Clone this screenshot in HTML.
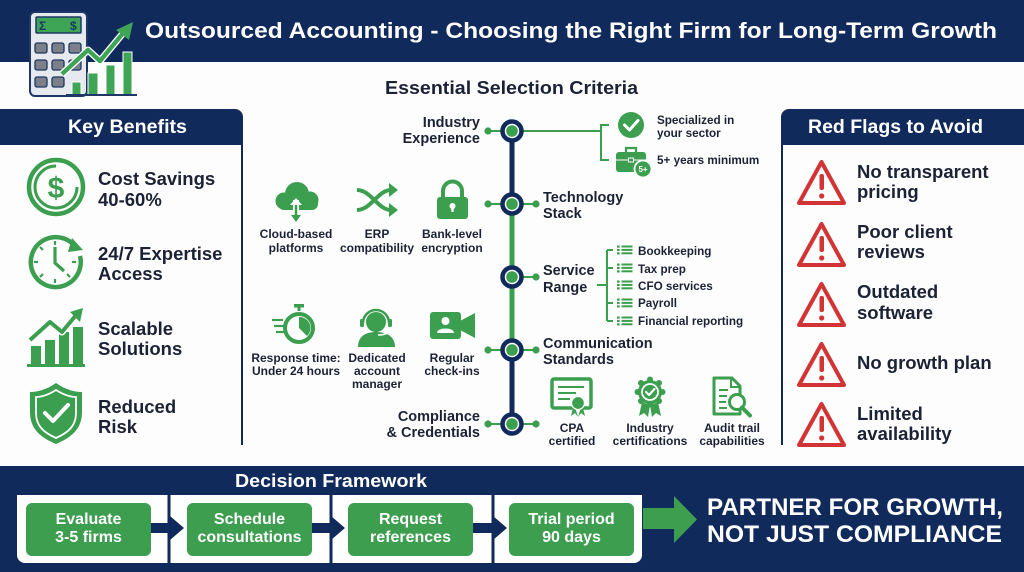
<!DOCTYPE html>
<html><head><meta charset="utf-8"><style>
html,body{margin:0;padding:0;background:#fdfdfd;}
svg{display:block;}
text{font-family:"Liberation Sans",Arial,sans-serif;font-weight:bold;}
</style></head><body>
<svg width="1024" height="572" viewBox="0 0 1024 572" xmlns="http://www.w3.org/2000/svg">
<rect x="0" y="0" width="1024" height="572" fill="#fdfdfd"/>
<!-- header -->
<rect x="0" y="0" width="1024" height="62" fill="#112a5c"/>
<text x="145" y="38" font-size="22" fill="#ffffff" textLength="852" lengthAdjust="spacingAndGlyphs">Outsourced Accounting - Choosing the Right Firm for Long-Term Growth</text>

<!-- calculator logo -->
<rect x="30" y="12" width="57" height="84" rx="5" fill="#e6eaee" stroke="#1e3766" stroke-width="2"/>
<rect x="36" y="17" width="45" height="16" rx="1" fill="#3fa556" stroke="#1e3766" stroke-width="1.5"/>
<text x="39" y="30" font-size="12" fill="#1e3766">Σ</text>
<text x="70" y="30" font-size="12" fill="#1e3766">$</text>
<g fill="#7c8088" stroke="#1e3766" stroke-width="1.3">
<rect x="35" y="43" width="12" height="10" rx="2"/><rect x="52" y="43" width="12" height="10" rx="2"/><rect x="69" y="43" width="12" height="10" rx="2"/>
<rect x="35" y="60" width="12" height="10" rx="2"/><rect x="52" y="60" width="12" height="10" rx="2"/><rect x="69" y="60" width="12" height="10" rx="2"/>
<rect x="35" y="77" width="12" height="10" rx="2"/><rect x="52" y="77" width="12" height="10" rx="2"/>
</g>
<g fill="#3fa556" stroke="#ffffff" stroke-width="1">
<rect x="72" y="82" width="9" height="13"/><rect x="88" y="73" width="10" height="22"/><rect x="106" y="65" width="9" height="30"/><rect x="123" y="52" width="9" height="43"/>
</g>
<line x1="66" y1="95" x2="137" y2="95" stroke="#1e3766" stroke-width="2"/>
<polyline points="62,74 88,50 100,61 124,32" fill="none" stroke="#ffffff" stroke-width="7" stroke-linejoin="round"/>
<polyline points="62,74 88,50 100,61 124,32" fill="none" stroke="#3fa556" stroke-width="4.5" stroke-linejoin="round"/>
<polygon points="133,22 129,40 116,30" fill="#3fa556"/>

<text x="385" y="94" font-size="18" fill="#1b2236" textLength="253" lengthAdjust="spacingAndGlyphs">Essential Selection Criteria</text>

<!-- left panel -->
<path d="M0,109 H235 A8,8 0 0 1 243,117 V145 H0 Z" fill="#112a5c"/>
<line x1="242" y1="145" x2="242" y2="445" stroke="#112a5c" stroke-width="2"/>
<text x="127.5" y="133" font-size="19" fill="#ffffff" text-anchor="middle" textLength="119" lengthAdjust="spacingAndGlyphs">Key Benefits</text>

<!-- dollar icon -->
<circle cx="56" cy="187" r="27" fill="none" stroke="#3c9e4f" stroke-width="4.5"/>
<path d="M56,166 A21,21 0 1 0 77,187" fill="none" stroke="#3c9e4f" stroke-width="3"/>
<text x="56" y="198" font-size="30" fill="#3c9e4f" text-anchor="middle">$</text>
<!-- clock icon -->
<path d="M73,244 A25,25 0 1 0 80,256" fill="none" stroke="#3c9e4f" stroke-width="4.5"/>
<polygon points="83,250 72,238 68,252" fill="#3c9e4f"/>
<g stroke="#3c9e4f" stroke-width="2.2">
<line x1="55" y1="241" x2="55" y2="245"/><line x1="55" y1="279" x2="55" y2="283"/><line x1="34" y1="262" x2="38" y2="262"/><line x1="72" y1="262" x2="76" y2="262"/>
<line x1="40" y1="247" x2="43" y2="250"/><line x1="67" y1="274" x2="70" y2="277"/><line x1="40" y1="277" x2="43" y2="274"/>
</g>
<polyline points="55,247 55,263 64,271" fill="none" stroke="#3c9e4f" stroke-width="3.2" stroke-linejoin="round"/>
<!-- chart icon -->
<g fill="#3c9e4f">
<rect x="31" y="346" width="10" height="18"/><rect x="45" y="340" width="10" height="24"/><rect x="59" y="332" width="10" height="32"/><rect x="73" y="327" width="10" height="37"/>
</g>
<line x1="27" y1="365.5" x2="85" y2="365.5" stroke="#3c9e4f" stroke-width="3"/>
<polyline points="30,340 50,322 62,332 77,314" fill="none" stroke="#ffffff" stroke-width="7" stroke-linejoin="round"/>
<polyline points="30,340 50,322 62,332 77,314" fill="none" stroke="#3c9e4f" stroke-width="4" stroke-linejoin="round"/>
<polygon points="83,308 80,322 70,312" fill="#3c9e4f"/>
<!-- shield -->
<path d="M56,383 C66,390 75,392 82,392 L82,412 C82,430 70,438 56,444 C42,438 30,430 30,412 L30,392 C37,392 46,390 56,383 Z" fill="#3c9e4f"/>
<path d="M56,390 C64,395 71,397 76,397 L76,413 C76,427 67,433 56,438 C45,433 36,427 36,413 L36,397 C41,397 48,395 56,390 Z" fill="none" stroke="#ffffff" stroke-width="1.8"/>
<polyline points="45,413 53,421 68,405" fill="none" stroke="#ffffff" stroke-width="4" stroke-linecap="round" stroke-linejoin="round"/>

<g font-size="18.5" fill="#1b2236">
<text x="98" y="185">Cost Savings</text><text x="98" y="206">40-60%</text>
<text x="98" y="260">24/7 Expertise</text><text x="98" y="280">Access</text>
<text x="98" y="335">Scalable</text><text x="98" y="355">Solutions</text>
<text x="98" y="413">Reduced</text><text x="98" y="433">Risk</text>
</g>

<!-- right panel -->
<path d="M789,109 H1024 V145 H781 V117 A8,8 0 0 1 789,109 Z" fill="#112a5c"/>
<line x1="782" y1="145" x2="782" y2="445" stroke="#112a5c" stroke-width="2"/>
<text x="895.5" y="133" font-size="19" fill="#ffffff" text-anchor="middle" textLength="175" lengthAdjust="spacingAndGlyphs">Red Flags to Avoid</text>
<g fill="none" stroke="#d23334" stroke-width="4" stroke-linejoin="round">
<polygon points="821.5,162 799,203 844,203"/>
<polygon points="821.5,224 799,265 844,265"/>
<polygon points="821.5,284 799,325 844,325"/>
<polygon points="821.5,344 799,385 844,385"/>
<polygon points="821.5,404 799,445 844,445"/>
</g>
<g fill="#d23334">
<rect x="819.5" y="174" width="4.5" height="16" rx="2"/><circle cx="821.7" cy="196" r="2.6"/>
<rect x="819.5" y="236" width="4.5" height="16" rx="2"/><circle cx="821.7" cy="258" r="2.6"/>
<rect x="819.5" y="296" width="4.5" height="16" rx="2"/><circle cx="821.7" cy="318" r="2.6"/>
<rect x="819.5" y="356" width="4.5" height="16" rx="2"/><circle cx="821.7" cy="378" r="2.6"/>
<rect x="819.5" y="416" width="4.5" height="16" rx="2"/><circle cx="821.7" cy="438" r="2.6"/>
</g>
<g font-size="18.5" fill="#1b2236">
<text x="857" y="178">No transparent</text><text x="857" y="198">pricing</text>
<text x="857" y="238">Poor client</text><text x="857" y="258">reviews</text>
<text x="857" y="298">Outdated</text><text x="857" y="319">software</text>
<text x="857" y="369">No growth plan</text>
<text x="857" y="420">Limited</text><text x="857" y="440">availability</text>
</g>

<!-- center timeline -->
<line x1="512" y1="131" x2="512" y2="204" stroke="#112a5c" stroke-width="5"/>
<line x1="512" y1="204" x2="512" y2="350" stroke="#3c9e4f" stroke-width="5"/>
<line x1="512" y1="350" x2="512" y2="424" stroke="#112a5c" stroke-width="5"/>
<g stroke="#3c9e4f" stroke-width="2">
<line x1="488" y1="131" x2="512" y2="131"/><line x1="512" y1="131" x2="601" y2="131"/>
<line x1="488" y1="204" x2="536" y2="204"/>
<line x1="512" y1="277" x2="536" y2="277"/>
<line x1="488" y1="350" x2="536" y2="350"/>
<line x1="488" y1="424" x2="536" y2="424"/>
<polyline points="609,125 601,125 601,160 609,160" fill="none"/>
<line x1="597" y1="285" x2="607" y2="285"/>
<line x1="607" y1="250" x2="607" y2="321"/>
<line x1="607" y1="250" x2="613" y2="250"/><line x1="607" y1="268" x2="613" y2="268"/><line x1="607" y1="303" x2="613" y2="303"/><line x1="607" y1="321" x2="613" y2="321"/>
</g>
<g fill="#3c9e4f">
<circle cx="488" cy="131" r="3.6"/>
<circle cx="488" cy="204" r="3.6"/><circle cx="536" cy="204" r="3.6"/>
<circle cx="536" cy="277" r="3.6"/>
<circle cx="488" cy="350" r="3.6"/><circle cx="536" cy="350" r="3.6"/>
<circle cx="488" cy="424" r="3.6"/><circle cx="536" cy="424" r="3.6"/>
</g>
<g fill="#ffffff" stroke="#112a5c" stroke-width="4.5">
<circle cx="512" cy="131" r="9.5"/><circle cx="512" cy="204" r="9.5"/><circle cx="512" cy="277" r="9.5"/><circle cx="512" cy="350" r="9.5"/><circle cx="512" cy="424" r="9.5"/>
</g>
<g fill="#3c9e4f">
<circle cx="512" cy="131" r="5.8"/><circle cx="512" cy="204" r="5.8"/><circle cx="512" cy="277" r="5.8"/><circle cx="512" cy="350" r="5.8"/><circle cx="512" cy="424" r="5.8"/>
</g>

<g font-size="14.5" fill="#1b2236">
<text x="480" y="127" text-anchor="end">Industry</text><text x="480" y="143" text-anchor="end">Experience</text>
<text x="543" y="202">Technology</text><text x="543" y="218">Stack</text>
<text x="543" y="275">Service</text><text x="543" y="292">Range</text>
<text x="543" y="348">Communication</text><text x="543" y="364">Standards</text>
<text x="480" y="421" text-anchor="end">Compliance</text><text x="480" y="437" text-anchor="end">&amp; Credentials</text>
</g>

<!-- industry details -->
<circle cx="631" cy="125" r="13" fill="#3c9e4f"/>
<polyline points="624.5,125 629.5,130 638,120.5" fill="none" stroke="#ffffff" stroke-width="3" stroke-linecap="round" stroke-linejoin="round"/>
<path d="M626,152 V148 H636 V152" fill="none" stroke="#3c9e4f" stroke-width="2.2"/>
<rect x="616" y="152" width="30" height="20" rx="3" fill="#3c9e4f"/>
<line x1="616" y1="160" x2="646" y2="160" stroke="#ffffff" stroke-width="1"/>
<rect x="628.5" y="158" width="5" height="4" fill="#3c9e4f" stroke="#ffffff" stroke-width="1"/>
<circle cx="643" cy="169" r="8.5" fill="#3c9e4f" stroke="#ffffff" stroke-width="1.8"/>
<text x="643" y="172" font-size="8" fill="#ffffff" text-anchor="middle">5+</text>
<g font-size="11.7" fill="#1b2236">
<text x="657" y="124">Specialized in</text><text x="657" y="137">your sector</text>
<text x="657" y="164">5+ years minimum</text>
</g>

<!-- service list -->
<g fill="#3c9e4f">
<g transform="translate(0,250)"><rect x="617" y="-4.5" width="2.6" height="2.2"/><rect x="617" y="-1.1" width="2.6" height="2.2"/><rect x="617" y="2.3" width="2.6" height="2.2"/><rect x="621.5" y="-4.5" width="11" height="2"/><rect x="621.5" y="-1.1" width="11" height="2"/><rect x="621.5" y="2.3" width="11" height="2"/></g>
<g transform="translate(0,268)"><rect x="617" y="-4.5" width="2.6" height="2.2"/><rect x="617" y="-1.1" width="2.6" height="2.2"/><rect x="617" y="2.3" width="2.6" height="2.2"/><rect x="621.5" y="-4.5" width="11" height="2"/><rect x="621.5" y="-1.1" width="11" height="2"/><rect x="621.5" y="2.3" width="11" height="2"/></g>
<g transform="translate(0,285)"><rect x="617" y="-4.5" width="2.6" height="2.2"/><rect x="617" y="-1.1" width="2.6" height="2.2"/><rect x="617" y="2.3" width="2.6" height="2.2"/><rect x="621.5" y="-4.5" width="11" height="2"/><rect x="621.5" y="-1.1" width="11" height="2"/><rect x="621.5" y="2.3" width="11" height="2"/></g>
<g transform="translate(0,303)"><rect x="617" y="-4.5" width="2.6" height="2.2"/><rect x="617" y="-1.1" width="2.6" height="2.2"/><rect x="617" y="2.3" width="2.6" height="2.2"/><rect x="621.5" y="-4.5" width="11" height="2"/><rect x="621.5" y="-1.1" width="11" height="2"/><rect x="621.5" y="2.3" width="11" height="2"/></g>
<g transform="translate(0,321)"><rect x="617" y="-4.5" width="2.6" height="2.2"/><rect x="617" y="-1.1" width="2.6" height="2.2"/><rect x="617" y="2.3" width="2.6" height="2.2"/><rect x="621.5" y="-4.5" width="11" height="2"/><rect x="621.5" y="-1.1" width="11" height="2"/><rect x="621.5" y="2.3" width="11" height="2"/></g>
</g>
<g font-size="11.7" fill="#1b2236">
<text x="638" y="255">Bookkeeping</text>
<text x="638" y="273">Tax prep</text>
<text x="638" y="290">CFO services</text>
<text x="638" y="307">Payroll</text>
<text x="638" y="325">Financial reporting</text>
</g>

<!-- technology icons -->
<g fill="#3c9e4f">
<circle cx="297" cy="194" r="12"/><circle cx="284" cy="201" r="8.5"/><circle cx="310" cy="200" r="8.5"/>
<rect x="278" y="198" width="40" height="12" rx="6"/>
</g>
<line x1="296" y1="200" x2="296" y2="216" stroke="#ffffff" stroke-width="6"/>
<line x1="296" y1="200" x2="296" y2="218" stroke="#3c9e4f" stroke-width="2.5"/>
<polygon points="290,205 296,198 302,205" fill="#ffffff"/>
<polygon points="291,215 296,222 301,215" fill="#3c9e4f"/>
<g fill="none" stroke="#3c9e4f" stroke-width="4">
<path d="M357,190 C371,190 378,210 391,210"/>
<path d="M357,210 C371,210 378,190 391,190"/>
</g>
<polygon points="389,183 398,190 389,197" fill="#3c9e4f"/>
<polygon points="389,203 398,210 389,217" fill="#3c9e4f"/>
<path d="M443,199 V191 A9.5,9.5 0 0 1 462,191 V199" fill="none" stroke="#3c9e4f" stroke-width="4"/>
<rect x="437" y="197" width="31" height="22" rx="3" fill="#3c9e4f"/>
<circle cx="452.5" cy="206" r="3" fill="#ffffff"/><rect x="451.3" y="207" width="2.4" height="5" fill="#ffffff"/>
<g font-size="12" fill="#1b2236" text-anchor="middle">
<text x="296" y="238">Cloud-based</text><text x="296" y="252">platforms</text>
<text x="377" y="238">ERP</text><text x="377" y="252">compatibility</text>
<text x="452" y="238">Bank-level</text><text x="452" y="252">encryption</text>
</g>

<!-- communication icons -->
<circle cx="299" cy="328" r="14" fill="none" stroke="#3c9e4f" stroke-width="4"/>
<path d="M299,328 V317 A11,11 0 0 1 307,336 Z" fill="#3c9e4f"/>
<rect x="294" y="304" width="10" height="3.5" fill="#3c9e4f"/><rect x="297.5" y="306" width="3" height="5" fill="#3c9e4f"/>
<g stroke="#3c9e4f" stroke-width="2.2"><line x1="272" y1="320" x2="283" y2="320"/><line x1="274" y1="326" x2="284" y2="326"/><line x1="276" y1="332" x2="284" y2="332"/></g>
<circle cx="376" cy="322" r="10" fill="#3c9e4f"/>
<path d="M358,347 C358,336 366,332 376,332 C386,332 395,336 395,347 Z" fill="#3c9e4f"/>
<path d="M363,323 A13,13 0 0 1 389,323" fill="none" stroke="#3c9e4f" stroke-width="2.5"/>
<rect x="360" y="319" width="4" height="8" rx="1.5" fill="#3c9e4f"/><rect x="388" y="319" width="4" height="8" rx="1.5" fill="#3c9e4f"/>
<path d="M390,327 C390,333 385,335 378,335" fill="none" stroke="#ffffff" stroke-width="1.6"/>
<rect x="430" y="312" width="31" height="27" rx="3" fill="#3c9e4f"/>
<polygon points="460,321 475,313 475,338 460,330" fill="#3c9e4f"/>
<circle cx="445.5" cy="321" r="4" fill="#ffffff"/><path d="M437,333 C437,327 454,327 454,333 Z" fill="#ffffff"/>
<g font-size="12" fill="#1b2236" text-anchor="middle">
<text x="296" y="362">Response time:</text><text x="296" y="375">Under 24 hours</text>
<text x="377" y="362">Dedicated</text><text x="377" y="375">account</text><text x="377" y="388">manager</text>
<text x="452" y="362">Regular</text><text x="452" y="375">check-ins</text>
</g>

<!-- compliance icons -->
<rect x="552" y="379" width="39" height="29" rx="2" fill="#ffffff" stroke="#3c9e4f" stroke-width="3.5"/>
<g stroke="#3c9e4f" stroke-width="2"><line x1="558" y1="387" x2="584" y2="387"/><line x1="558" y1="393" x2="576" y2="393"/><line x1="558" y1="399" x2="570" y2="399"/></g>
<polygon points="574,404 571,416 575,413 578,417" fill="#3c9e4f"/><polygon points="582,404 585,416 581,413 578,417" fill="#3c9e4f"/>
<circle cx="578" cy="403" r="6.5" fill="#3c9e4f" stroke="#ffffff" stroke-width="1.3"/>
<polygon points="642,402 639,416 644,413 648,417 650,405" fill="#3c9e4f"/><polygon points="658,402 661,416 656,413 652,417 650,405" fill="#3c9e4f"/>
<g fill="#3c9e4f">
<circle cx="650" cy="392" r="12"/>
<circle cx="650" cy="379.5" r="3"/><circle cx="650" cy="404.5" r="3"/><circle cx="637.5" cy="392" r="3"/><circle cx="662.5" cy="392" r="3"/>
<circle cx="641" cy="383" r="3"/><circle cx="659" cy="383" r="3"/><circle cx="641" cy="401" r="3"/><circle cx="659" cy="401" r="3"/>
</g>
<circle cx="650" cy="392" r="8" fill="none" stroke="#ffffff" stroke-width="1.8"/>
<polyline points="646,392 649,395 654.5,389" fill="none" stroke="#ffffff" stroke-width="2.2" stroke-linecap="round" stroke-linejoin="round"/>
<path d="M714,378 H732 L740,386 V414 H714 Z" fill="#ffffff" stroke="#3c9e4f" stroke-width="3" stroke-linejoin="round"/>
<path d="M731,378 V387 H740" fill="none" stroke="#3c9e4f" stroke-width="2"/>
<g stroke="#3c9e4f" stroke-width="2"><line x1="719" y1="390" x2="728" y2="390"/><line x1="719" y1="396" x2="727" y2="396"/><line x1="719" y1="402" x2="726" y2="402"/><line x1="719" y1="408" x2="727" y2="408"/></g>
<circle cx="737" cy="402" r="7.5" fill="#ffffff" stroke="#3c9e4f" stroke-width="3"/>
<line x1="742" y1="407.5" x2="750" y2="415.5" stroke="#3c9e4f" stroke-width="4" stroke-linecap="round"/>
<g font-size="12" fill="#1b2236" text-anchor="middle">
<text x="572" y="432">CPA</text><text x="572" y="445">certified</text>
<text x="650" y="432">Industry</text><text x="650" y="445">certifications</text>
<text x="732" y="432">Audit trail</text><text x="732" y="445">capabilities</text>
</g>

<!-- bottom section -->
<rect x="0" y="466" width="1024" height="106" fill="#112a5c"/>
<text x="331" y="487" font-size="18" fill="#ffffff" text-anchor="middle" textLength="192" lengthAdjust="spacingAndGlyphs">Decision Framework</text>
<path d="M17,495 H642 V555 A8,8 0 0 1 634,563 H25 A8,8 0 0 1 17,555 Z" fill="#ffffff"/>
<g stroke="#112a5c" stroke-width="3"><line x1="169" y1="495" x2="169" y2="563"/><line x1="331" y1="495" x2="331" y2="563"/><line x1="493" y1="495" x2="493" y2="563"/></g>
<g fill="#112a5c">
<rect x="150" y="523" width="22" height="10"/><polygon points="170,516 184,528 170,540"/>
<rect x="311" y="523" width="22" height="10"/><polygon points="331,516 345,528 331,540"/>
<rect x="472" y="523" width="22" height="10"/><polygon points="493,516 507,528 493,540"/>
</g>
<g fill="#3d9e4f">
<rect x="26" y="503" width="125" height="53" rx="6"/>
<rect x="187" y="503" width="125" height="53" rx="6"/>
<rect x="348" y="503" width="125" height="53" rx="6"/>
<rect x="509" y="503" width="125" height="53" rx="6"/>
</g>
<g font-size="16" fill="#ffffff" text-anchor="middle">
<text x="88.5" y="524">Evaluate</text><text x="88.5" y="542">3-5 firms</text>
<text x="249.5" y="524">Schedule</text><text x="249.5" y="542">consultations</text>
<text x="410.5" y="524">Request</text><text x="410.5" y="542">references</text>
<text x="571.5" y="524">Trial period</text><text x="571.5" y="542">90 days</text>
</g>
<rect x="643" y="508" width="33" height="21" fill="#3d9e4f"/>
<polygon points="674,496 697,519.5 674,543" fill="#3d9e4f"/>
<g font-size="24" fill="#ffffff">
<text x="707" y="515" textLength="296" lengthAdjust="spacingAndGlyphs">PARTNER FOR GROWTH,</text>
<text x="707" y="542" textLength="295" lengthAdjust="spacingAndGlyphs">NOT JUST COMPLIANCE</text>
</g>
</svg>
</body></html>
